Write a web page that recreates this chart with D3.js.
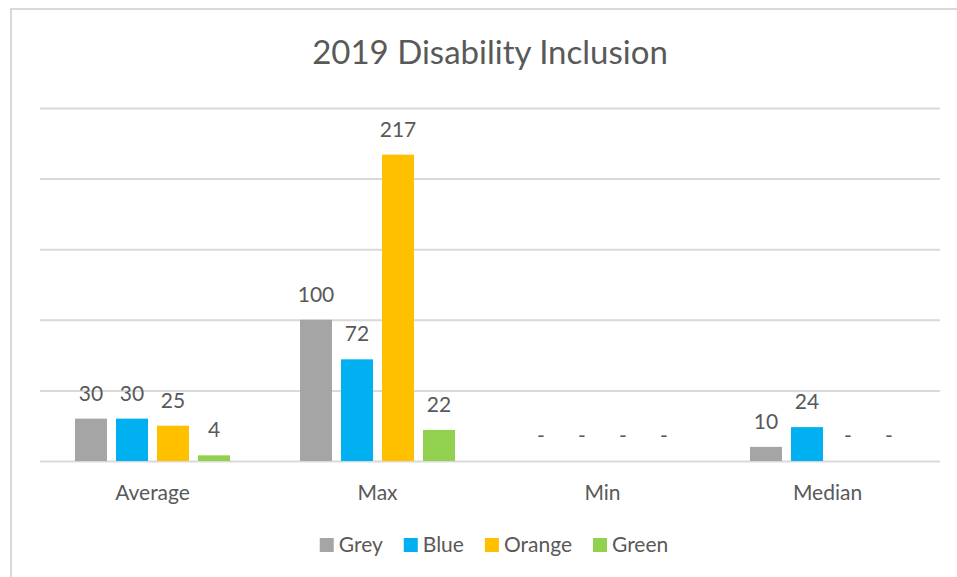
<!DOCTYPE html>
<html>
<head>
<meta charset="utf-8">
<script src="https://cdn.jsdelivr.net/npm/d3@7"></script>
<style>
  html, body { margin: 0; padding: 0; background: #fff; }
  svg { display: block; }
  text { font-family: Lato, "Open Sans", sans-serif; fill: #595959; }
</style>
</head>
<body>
<svg id="chart" width="957" height="577"></svg>
<script>
const title = "2019 Disability Inclusion";
const categories = ["Average", "Max", "Min", "Median"];
const seriesNames = ["Grey", "Blue", "Orange", "Green"];
const greyValues = [30, 100, 0, 10];
const blueValues = [30, 72, 0, 24];
const orangeValues = [25, 217, 0, 0];
const greenValues = [4, 22, 0, 0];
const yTicks = [0, 50, 100, 150, 200, 250];
const seriesColors = ["#A5A5A5", "#00B0F0", "#FFC000", "#92D050"];

const seriesValues = [greyValues, blueValues, orangeValues, greenValues];

const svg = d3.select("#chart");

// outer chart border
svg.append("rect")
  .attr("x", 11).attr("y", 9)
  .attr("width", 980).attr("height", 600)
  .attr("fill", "#fff")
  .attr("stroke", "#D9D9D9")
  .attr("stroke-width", 2);

const plot = { left: 40, right: 940, top: 108, bottom: 461 };

const y = d3.scaleLinear().domain([0, 250]).range([plot.bottom, plot.top]);
const x0 = d3.scaleBand().domain(categories).range([plot.left, plot.right]);
const x1 = d3.scaleBand().domain(seriesNames).range([35, 190]).paddingInner(0.22);

// gridlines
const yAxis = d3.axisLeft(y).tickValues(yTicks).tickSize(-(plot.right - plot.left)).tickFormat("");
const gy = svg.append("g").attr("transform", `translate(${plot.left},0)`).call(yAxis);
gy.select(".domain").remove();
gy.selectAll(".tick line").attr("stroke", "#D9D9D9").attr("stroke-width", 2);

// title
svg.append("text")
  .attr("x", 490).attr("y", 64)
  .attr("text-anchor", "middle")
  .style("font-size", "33px")
  .text(title);

// bars
const groups = svg.append("g").selectAll("g")
  .data(categories)
  .join("g")
  .attr("transform", d => `translate(${x0(d)},0)`);

const rows = (cat, ci) => seriesNames.map((s, si) => ({ s, si, v: seriesValues[si][ci] }));

groups.selectAll("rect")
  .data((d, ci) => rows(d, ci))
  .join("rect")
  .attr("x", d => x1(d.s))
  .attr("width", x1.bandwidth())
  .attr("y", d => y(d.v))
  .attr("height", d => y(0) - y(d.v))
  .attr("fill", d => seriesColors[d.si]);

groups.selectAll("text.lbl")
  .data((d, ci) => rows(d, ci))
  .join("text")
  .attr("class", "lbl")
  .attr("x", d => x1(d.s) + x1.bandwidth() / 2)
  .attr("y", d => y(d.v) - 18)
  .attr("text-anchor", "middle")
  .style("font-size", "21px")
  .text(d => d.v === 0 ? "-" : d.v);

// x axis labels
const xAxis = d3.axisBottom(x0).tickSize(0).tickPadding(0);
const gx = svg.append("g").attr("transform", `translate(0,${plot.bottom})`).call(xAxis);
gx.select(".domain").remove();
gx.selectAll(".tick text")
  .attr("dy", 0).attr("y", 39)
  .style("font-size", "21px")
  .style("font-family", "Lato, 'Open Sans', sans-serif")
  .attr("fill", "#595959");

// legend
const legend = svg.append("g");
const items = legend.selectAll("g").data(seriesNames).join("g");
items.append("rect")
  .attr("width", 14).attr("height", 14)
  .attr("y", 538)
  .attr("fill", (d, i) => seriesColors[i]);
items.append("text")
  .attr("x", 19).attr("y", 552)
  .style("font-size", "21px")
  .text(d => d);
let widths = [];
items.each(function() { widths.push(14 + 5 + d3.select(this).select("text").node().getComputedTextLength()); });
const gap = 21;
const total = d3.sum(widths) + gap * (widths.length - 1);
let cx = 494 - total / 2;
items.attr("transform", (d, i) => {
  const t = `translate(${cx},0)`;
  cx += widths[i] + gap;
  return t;
});
</script>
</body>
</html>
